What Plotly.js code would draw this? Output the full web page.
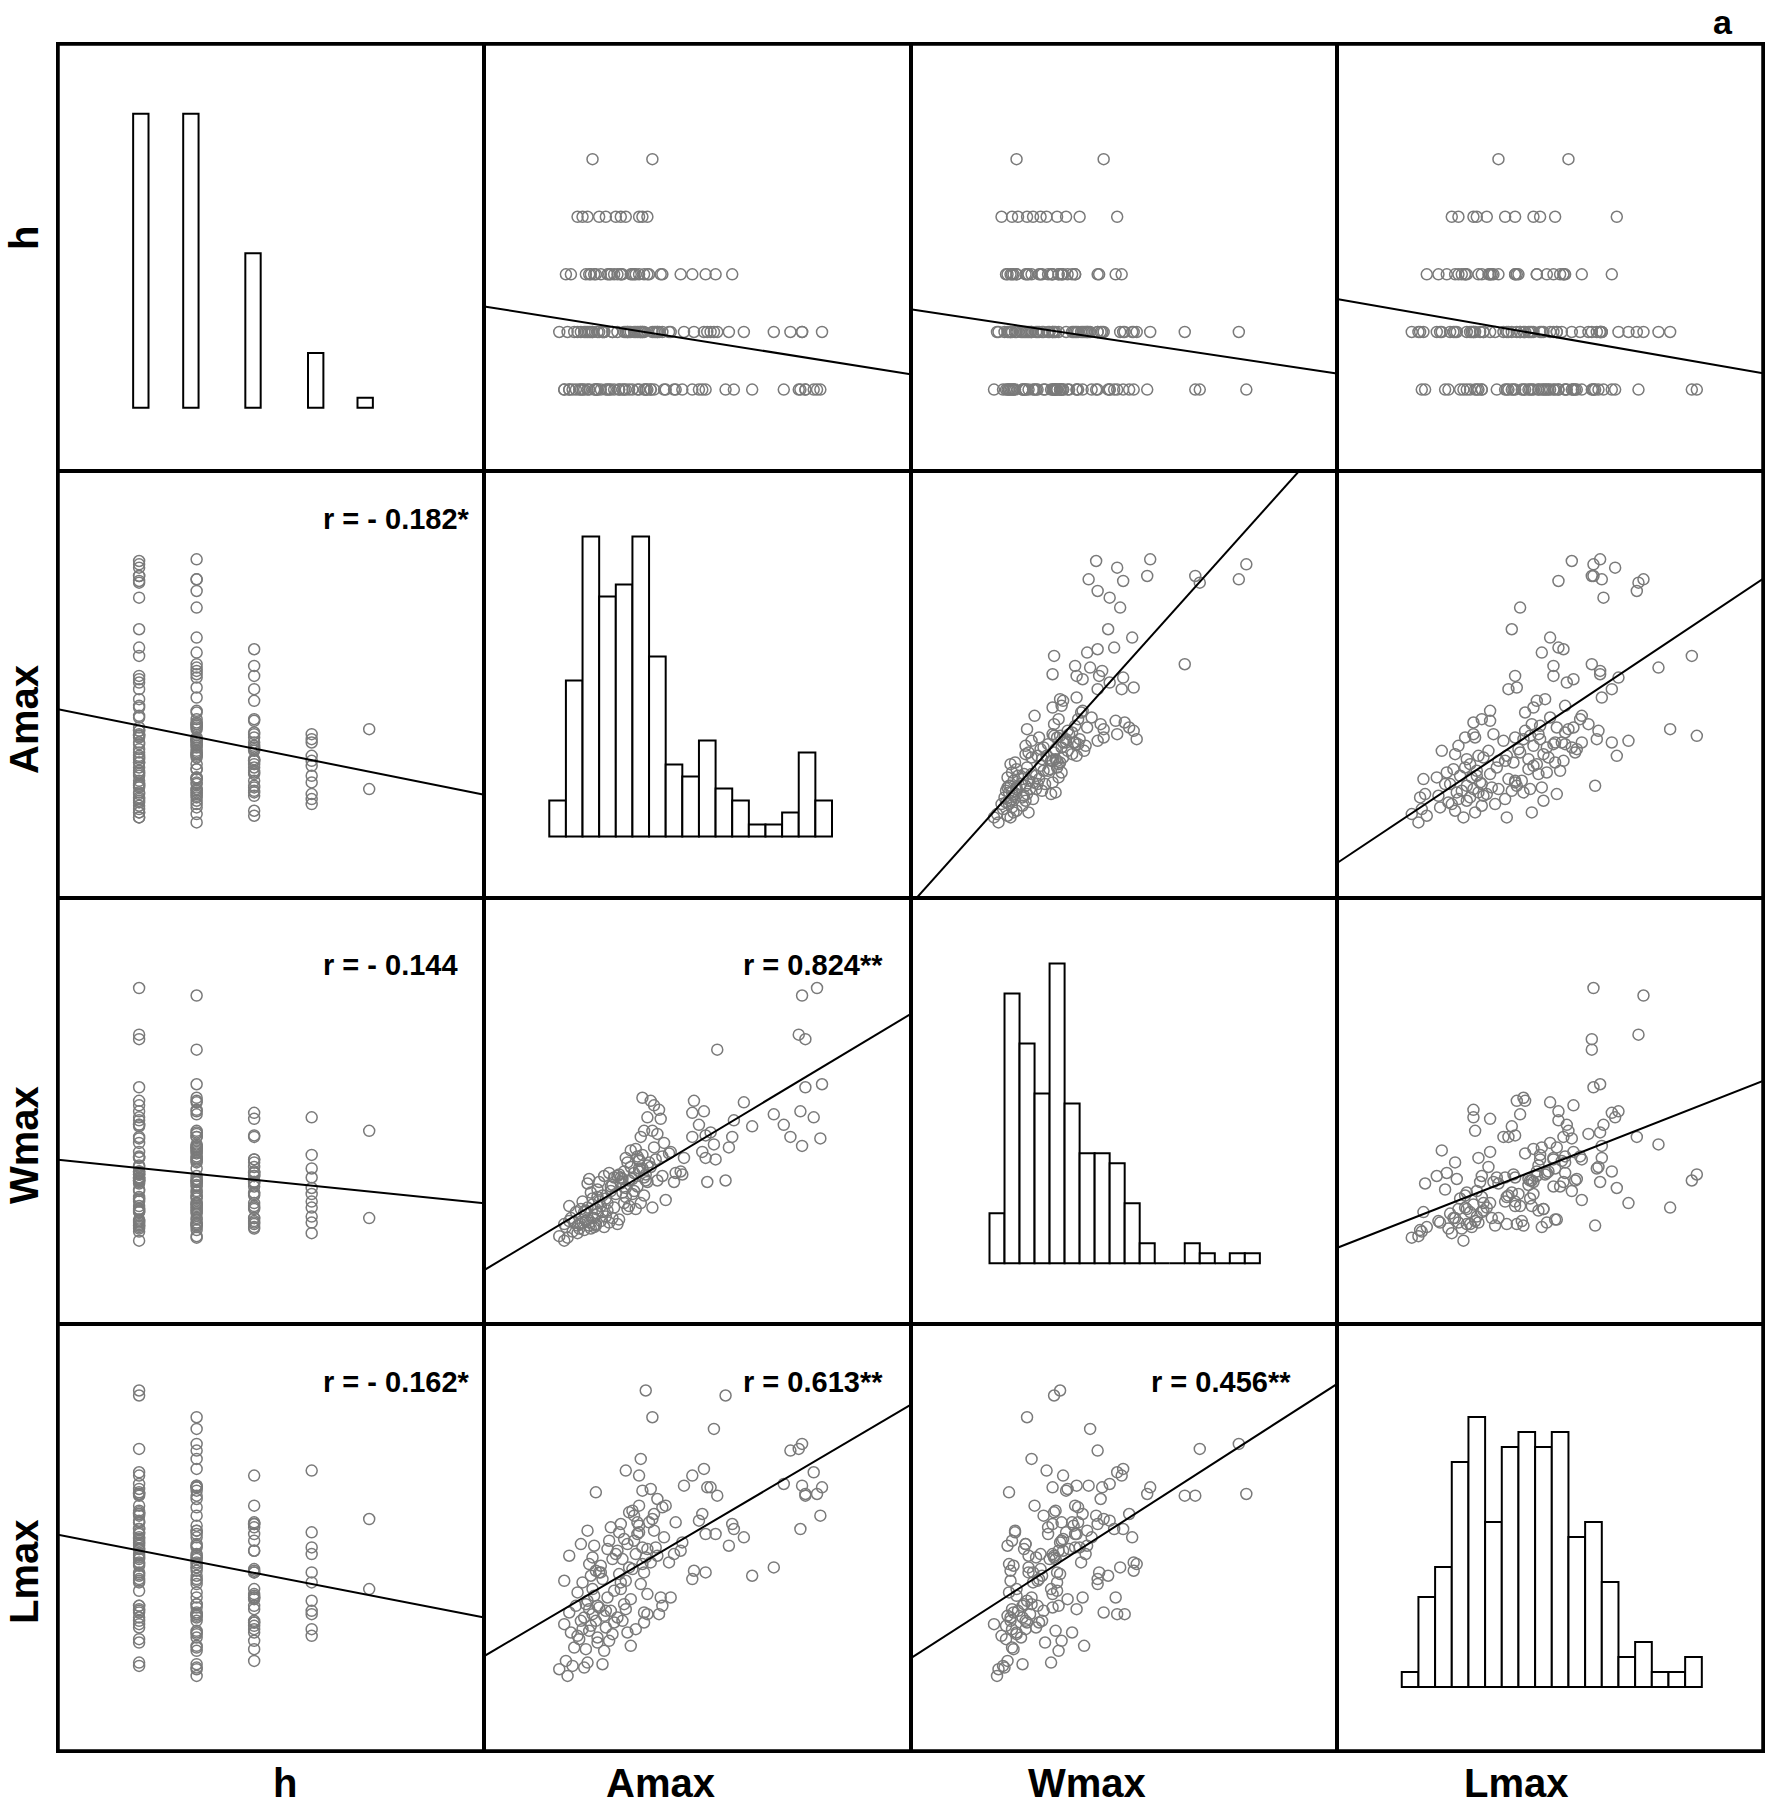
<!DOCTYPE html>
<html>
<head>
<meta charset="utf-8">
<script src="https://cdn.plot.ly/plotly-3.0.1.min.js"></script>
<style>
html,body{margin:0;padding:0;background:#fff;}
#chart{width:1772px;height:1807px;}
</style>
</head>
<body>
<div id="chart"></div>
<script>
// ---------------- DATA (arbitrary linear units) ----------------
const varNames = ['h', 'Amax', 'Wmax', 'Lmax'];

const h = [
  2,1,1,1,2,1,2,1,1,2,1,2,1,1,
  2,1,3,2,1,2,3,2,1,2,3,2,1,1,2,3,1,2,2,1,1,2,1,3,2,1,
  5,5,
  4,4,4,4,4,4,4,4,4,4,4,
  2,1,1,
  2,1,3,2,1,3,2,1,1,2,1,1,
  2,1,3,1,2,2,3,1,1,2,3,1,2,3,1,2,3,1,2,1,2,1,
  2,1,3,2,1,3,2,1,2,3,1,2,3,1,2,1,2,3,
  1,2,3,2,1,2,3,3,2,1,2,1,3,2,1,2,3,1,
  1,2,1,2,2,3,3,2,3,2,1,3,2,1,2,1,3,2,1,2,1,3,
  2,3,2,3,1,2,2,1,2,3,1,2,2,1
];

const Amax = [
  15.2,16.1,15.0,15.4,16.4,15.4,13.5,14.1,15.1,14.5,15.9,15.2,16.3,12.2,
  11.7,11.1,11.0,10.8,10.6,10.1,10.0,9.5,9.4,9.3,9.4,9.9,9.0,9.2,9.7,8.6,8.6,8.1,8.7,8.0,7.0,7.3,7.6,7.9,7.2,7.5,
  2.6,6.2,
  1.7,2.0,2.3,3.0,3.4,4.0,4.3,4.6,5.4,5.6,5.9,
  0.6,0.9,0.9,
  1.1,1.4,1.0,1.5,1.8,1.3,1.9,1.2,1.6,1.7,1.2,1.9,
  2.1,2.4,2.2,2.7,2.9,2.3,2.5,2.8,2.1,2.6,2.4,2.9,2.2,2.7,2.0,2.5,2.8,2.3,2.6,2.9,2.4,2.8,
  3.2,3.6,3.1,3.8,3.4,3.9,3.3,3.7,3.0,3.5,3.9,3.2,3.6,3.1,3.8,3.5,3.3,3.7,
  4.2,4.7,4.4,4.1,4.8,4.5,4.9,4.3,4.6,4.2,4.8,4.4,4.1,4.7,4.5,4.9,4.3,4.6,
  5.8,5.5,5.4,5.6,5.6,5.2,5.7,5.1,5.9,5.3,5.7,5.0,5.4,5.8,5.2,5.9,5.1,5.5,5.3,5.7,5.0,5.4,
  6.2,6.7,6.3,6.8,6.1,6.5,6.4,6.9,6.6,6.0,6.3,6.8,6.5,6.1
];

const Wmax = [
  16.6,17.1,14.0,13.7,10.7,10.5,8.7,8.0,8.9,7.2,8.5,6.6,7.1,7.9,
  9.5,8.3,7.2,6.5,4.3,13.0,5.7,4.2,5.8,8.9,7.3,6.7,8.0,6.2,7.5,8.8,7.2,5.8,9.6,4.7,3.0,6.2,4.8,4.9,6.1,4.2,
  1.8,7.6,
  0.8,1.5,2.5,2.9,1.9,3.4,4.5,3.8,5.1,6.0,8.5,
  0.6,0.3,1.4,
  0.5,0.9,1.2,1.5,1.1,1.8,1.4,1.6,2.2,1.3,2.6,2.4,
  1.0,1.3,1.6,1.2,2.1,1.7,1.1,2.4,2.2,2.7,1.5,3.2,2.3,1.8,2.9,3.5,1.4,4.1,3.1,3.7,4.4,1.3,
  2.2,1.5,2.6,1.8,3.1,2.5,1.2,3.6,4.2,2.8,4.5,3.3,4.8,1.6,4.0,2.3,4.6,3.9,
  1.7,2.4,3.5,1.4,4.3,2.8,5.2,4.1,3.2,4.7,2.6,4.4,4.6,5.5,4.9,6.3,4.2,5.8,
  4.7,2.8,4.9,5.1,9.8,2.4,3.3,3.6,4.2,3.9,4.5,3.4,5.6,4.3,6.4,5.3,4.8,7.2,5.9,7.6,4.4,5.7,
  2.5,8.4,6.5,4.6,5.2,4.3,5.7,6.8,9.0,5.5,9.3,5.9,7.4,9.6
];

const Lmax = [
  14.5,11.5,14.2,11.4,11.9,11.5,7.1,12.1,9.4,14.1,12.8,12.0,10.2,6.6,
  8.9,9.4,9.7,8.4,17.4,11.4,9.1,11.9,9.1,13.0,6.8,15.4,9.9,10.3,11.9,12.6,6.4,12.0,6.9,8.6,10.8,5.3,9.8,8.1,7.4,7.9,
  5.8,10.0,
  3.0,3.4,5.1,6.8,4.5,7.9,6.2,12.9,9.2,8.3,4.3,
  1.0,3.7,6.3,
  0.6,1.2,1.5,2.3,2.8,3.2,3.9,4.4,4.8,5.6,7.8,8.5,
  1.1,7.3,2.2,8.4,2.9,9.3,3.6,3.9,4.1,4.3,4.6,4.8,4.9,5.4,6.2,6.6,6.9,1.4,7.7,2.6,3.3,11.6,
  1.3,8.7,6.8,3.1,3.5,3.8,4.2,4.5,4.7,5.3,5.7,6.4,2.7,7.2,7.6,8.2,2.1,9.5,
  9.2,8.5,3.9,4.1,10.4,4.9,5.2,5.8,6.3,6.7,7.1,7.6,8.1,3.2,8.8,2.4,9.7,4.6,
  17.7,13.6,12.6,11.7,7.3,3.4,3.8,10.2,5.5,9.1,6.8,7.0,9.6,7.7,7.9,8.2,8.7,6.1,9.8,4.4,10.5,10.8,
  16.1,5.3,9.3,4.8,11.8,7.8,8.3,8.9,4.3,9.8,10.3,10.7,11.2,7.4
];

// Histograms on the diagonal (counts per bin)
const hBinCenters = [1.03, 1.9, 2.98, 4.07, 4.93];
const hBinCounts = [59, 59, 31, 11, 2];
const amaxBinCounts = [3, 13, 25, 20, 21, 25, 15, 6, 5, 8, 4, 3, 1, 1, 2, 7, 3];
const wmaxBinCounts = [5, 27, 22, 17, 30, 16, 11, 11, 10, 6, 2, 0, 0, 2, 1, 0, 1, 1];
const lmaxBinCounts = [1, 6, 8, 15, 18, 11, 16, 17, 16, 17, 10, 11, 7, 2, 3, 1, 1, 2];

// Correlation labels (row, col) in the lower triangle
const rRows = [1, 2, 2, 3, 3, 3];
const rCols = [0, 0, 1, 0, 1, 2];
const rLabels = ['r = - 0.182*', 'r = - 0.144', 'r = 0.824**', 'r = - 0.162*', 'r = 0.613**', 'r = 0.456**'];

// ---------------- LAYOUT / STYLE ----------------
const W_PX = 1772, H_PX = 1807;
const M = {l: 58, r: 9, t: 44, b: 56};
const plotW = W_PX - M.l - M.r;
const plotH = H_PX - M.t - M.b;
const px = x => (x - M.l) / plotW;
const py = y => (H_PX - M.b - y) / plotH;

const vars = [h, Amax, Wmax, Lmax];
const ranges = [[-0.41, 7.0], [-3.91, 21.72], [-5.26, 23.12], [-3.9, 21.67]];
const binCenters = arr => arr.map((_, i) => i + 0.5);
const hists = [
  {x: hBinCenters, y: hBinCounts, width: 0.267, yr: [-12.65, 73.0]},
  {x: binCenters(amaxBinCounts), y: amaxBinCounts, width: 1, yr: [-5.08, 30.48]},
  {x: binCenters(wmaxBinCounts), y: wmaxBinCounts, width: 1, yr: [-6.1, 36.6]},
  {x: binCenters(lmaxBinCounts), y: lmaxBinCounts, width: 1, yr: [-4.27, 24.18]}
];

function fit(x, y) {
  const n = x.length;
  let mx = 0, my = 0;
  for (let i = 0; i < n; i++) { mx += x[i]; my += y[i]; }
  mx /= n; my /= n;
  let sxy = 0, sxx = 0;
  for (let i = 0; i < n; i++) { sxy += (x[i] - mx) * (y[i] - my); sxx += (x[i] - mx) * (x[i] - mx); }
  const b = sxy / sxx;
  return {a: my - b * mx, b: b};
}

const traces = [];
const layout = {
  width: W_PX, height: H_PX,
  margin: {l: M.l, r: M.r, t: M.t, b: M.b, pad: 0},
  paper_bgcolor: '#fff', plot_bgcolor: '#fff',
  showlegend: false,
  annotations: [], shapes: []
};

function axisCfg(domain, range, anchor) {
  return {
    domain: domain, range: range, anchor: anchor,
    showgrid: false, zeroline: false, showticklabels: false, ticks: '',
    showline: true, mirror: true, linecolor: '#000', linewidth: 2, fixedrange: true
  };
}

for (let r = 0; r < 4; r++) {
  for (let c = 0; c < 4; c++) {
    const k = r * 4 + c + 1;
    const xa = 'x' + (k === 1 ? '' : k), ya = 'y' + (k === 1 ? '' : k);
    const xDom = [c / 4, (c + 1) / 4];
    const yDom = [1 - (r + 1) / 4, 1 - r / 4];
    const xr = ranges[c];
    let yr;
    if (r === c) {
      const hs = hists[c];
      yr = hs.yr;
      traces.push({
        type: 'bar', x: hs.x, y: hs.y, width: hs.width, xaxis: xa, yaxis: ya,
        marker: {color: '#fff', line: {color: '#000', width: 2}},
        hoverinfo: 'skip'
      });
    } else {
      yr = ranges[r];
      traces.push({
        type: 'scatter', mode: 'markers', x: vars[c], y: vars[r], xaxis: xa, yaxis: ya,
        marker: {symbol: 'circle-open', size: 11, color: '#7a7a7a', line: {width: 1.5}},
        hoverinfo: 'skip'
      });
      const f = fit(vars[c], vars[r]);
      traces.push({
        type: 'scatter', mode: 'lines', xaxis: xa, yaxis: ya,
        x: [xr[0], xr[1]], y: [f.a + f.b * xr[0], f.a + f.b * xr[1]],
        line: {color: '#000', width: 2}, hoverinfo: 'skip'
      });
    }
    layout['xaxis' + (k === 1 ? '' : k)] = axisCfg(xDom, xr, ya);
    layout['yaxis' + (k === 1 ? '' : k)] = axisCfg(yDom, yr, xa);
  }
}

// outer frame
layout.shapes.push({type: 'rect', xref: 'paper', yref: 'paper', x0: 0, x1: 1, y0: 0, y1: 1,
  line: {color: '#000', width: 3.5}, fillcolor: 'rgba(0,0,0,0)'});

const labelFont = {family: '"Liberation Sans Narrow", "Arial Narrow", "Liberation Sans", Arial, sans-serif', size: 40, color: '#000'};
const colLabelX = [285, 660, 1087, 1516];
const rowLabelY = [238, 720, 1145, 1572];
for (let i = 0; i < 4; i++) {
  layout.annotations.push({
    text: '<b>' + varNames[i] + '</b>', xref: 'paper', yref: 'paper',
    x: px(colLabelX[i]), y: py(1783), xanchor: 'center', yanchor: 'middle',
    showarrow: false, font: labelFont
  });
  layout.annotations.push({
    text: '<b>' + varNames[i] + '</b>', xref: 'paper', yref: 'paper',
    x: px(24), y: py(rowLabelY[i]), xanchor: 'center', yanchor: 'middle', textangle: -90,
    showarrow: false, font: labelFont
  });
}

const rFont = {family: '"Liberation Sans", Arial, sans-serif', size: 29, color: '#000'};
const rLeftX = [321, 741, 1149];
const rRowY = {1: 519, 2: 965, 3: 1382};
for (let i = 0; i < rLabels.length; i++) {
  layout.annotations.push({
    text: '<b>' + rLabels[i] + '</b>', xref: 'paper', yref: 'paper',
    x: px(rLeftX[rCols[i]]), y: py(rRowY[rRows[i]]), xanchor: 'left', yanchor: 'middle',
    showarrow: false, font: rFont
  });
}

layout.annotations.push({
  text: '<b>a</b>', xref: 'paper', yref: 'paper', x: px(1723), y: py(22),
  xanchor: 'center', yanchor: 'middle', showarrow: false,
  font: {family: '"Liberation Sans", Arial, sans-serif', size: 34, color: '#000'}
});

Plotly.newPlot('chart', traces, layout, {displayModeBar: false, staticPlot: true});
</script>
</body>
</html>
